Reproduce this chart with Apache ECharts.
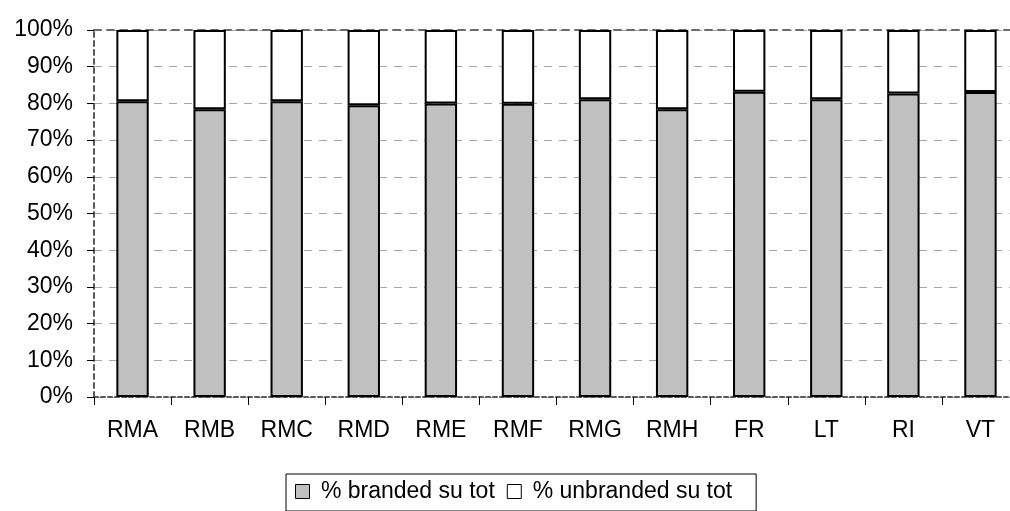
<!DOCTYPE html>
<html>
<head>
<meta charset="utf-8">
<script src="https://cdn.jsdelivr.net/npm/echarts@6/dist/echarts.min.js"></script>
<style>
  html, body { margin: 0; padding: 0; background: #ffffff; overflow: hidden; }
  #chart { width: 1010px; height: 511px; }
</style>
</head>
<body>
<div id="chart"></div>
<script>
// Categories (regions / channels)
const categories = ['RMA', 'RMB', 'RMC', 'RMD', 'RME', 'RMF', 'RMG', 'RMH', 'FR', 'LT', 'RI', 'VT'];

// Share of branded products on total (%)
const branded = [80.6, 78.4, 80.6, 79.5, 80.0, 79.9, 81.1, 78.4, 83.2, 81.1, 82.7, 83.1];

// Share of unbranded products on total (%)
const unbranded = [19.4, 21.6, 19.4, 20.5, 20.0, 20.1, 18.9, 21.6, 16.8, 18.9, 17.3, 16.9];

// Value axis ticks
const yMin = 0, yMax = 100, yStep = 10;

const FONT = 'Arial, "Liberation Sans", sans-serif';

const chart = echarts.init(document.getElementById('chart'), null, { renderer: 'canvas' });

chart.setOption({
  animation: false,
  backgroundColor: '#ffffff',
  // plot area runs slightly past the right edge of the canvas
  grid: { left: 94, width: 925, top: 30, bottom: 114, containLabel: false, outerBoundsMode: 'none' },
  legend: {
    left: 286,
    top: 474,
    orient: 'horizontal',
    padding: [6, 24, 8, 9],
    borderColor: '#000000',
    borderWidth: 1,
    itemGap: 12,
    itemWidth: 14,
    itemHeight: 14,
    icon: 'rect',
    formatter: function (name) { return ' ' + name; },
    textStyle: { fontFamily: FONT, fontSize: 23, color: '#000000' },
    itemStyle: { borderColor: '#000000', borderWidth: 1 },
    data: ['% branded su tot', '% unbranded su tot']
  },
  xAxis: [
    {
      type: 'category',
      data: categories,
      position: 'bottom',
      axisLine: { show: true, lineStyle: { color: '#5a5a5a', width: 2, type: [4, 3] } },
      axisTick: { show: true, alignWithLabel: false, length: 8, lineStyle: { color: '#000000', width: 1 } },
      axisLabel: { margin: 22, fontFamily: FONT, fontSize: 23, color: '#000000' },
      splitLine: { show: false }
    },
    {
      type: 'category',
      data: categories,
      position: 'top',
      axisLine: { show: true, lineStyle: { color: '#6a6a6a', width: 2, type: [7, 6] } },
      axisTick: { show: false },
      axisLabel: { show: false },
      splitLine: { show: false }
    }
  ],
  yAxis: {
    type: 'value',
    min: yMin,
    max: yMax,
    interval: yStep,
    axisLine: { show: true, lineStyle: { color: '#5a5a5a', width: 2, type: [5, 4] } },
    axisTick: { show: true, inside: false, length: 7, lineStyle: { color: '#000000', width: 1 } },
    axisLabel: {
      margin: 21,
      fontFamily: FONT,
      fontSize: 23,
      color: '#000000',
      formatter: '{value}%'
    },
    splitLine: { show: true, lineStyle: { color: '#a6a6a6', width: 1, type: [8, 7] } }
  },
  series: [
    {
      name: '% branded su tot',
      type: 'bar',
      stack: 'tot',
      data: branded,
      barWidth: '42%',
      itemStyle: { color: '#c0c0c0', borderColor: '#000000', borderWidth: 2 }
    },
    {
      name: '% unbranded su tot',
      type: 'bar',
      stack: 'tot',
      data: unbranded,
      barWidth: '42%',
      itemStyle: { color: '#ffffff', borderColor: '#000000', borderWidth: 2 }
    }
  ]
});
</script>
</body>
</html>
